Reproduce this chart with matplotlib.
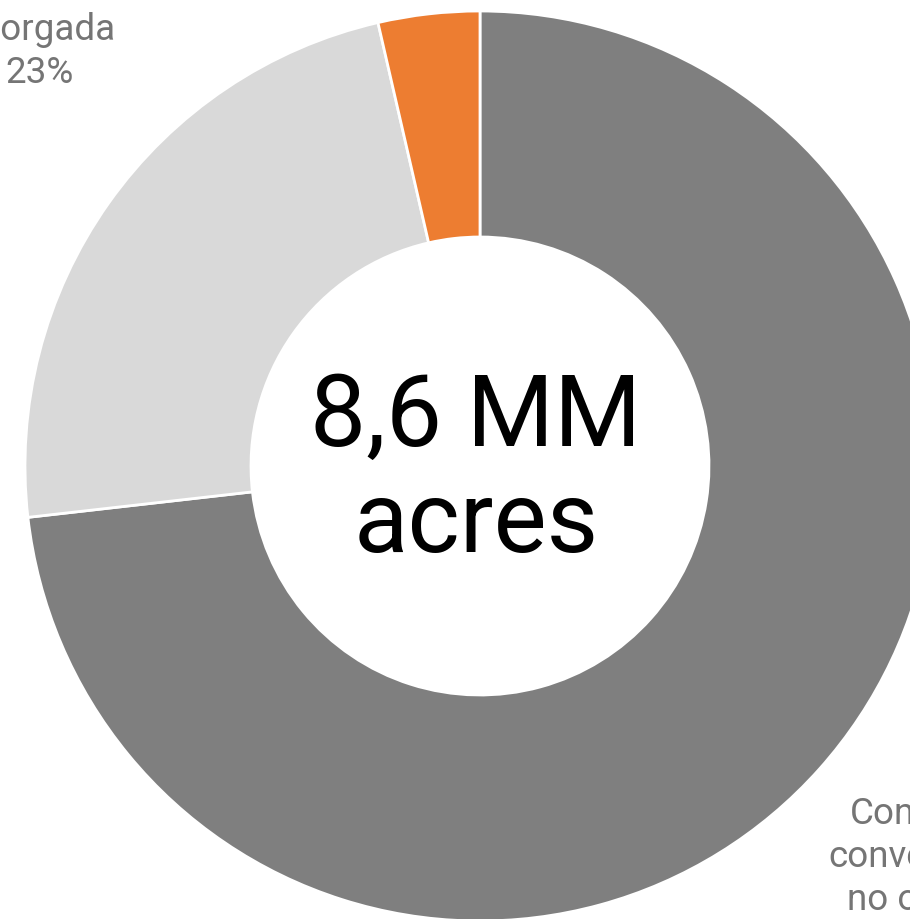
import matplotlib.pyplot as plt

# shares of total area (%), clockwise from 12 o'clock
categories = ['Concesiones\nconvencionales\nno otorgadas', 'Otorgada', 'Otra']
shares = [73.2, 23.2, 3.6]
colors = ['#7f7f7f', '#d9d9d9', '#ed7d31']
center_label = '8,6 MM\nacres'

plt.rcParams['font.family'] = ['Roboto', 'DejaVu Sans']

fig = plt.figure(figsize=(9.1, 9.2), dpi=100)
ax = fig.add_axes([0, 0, 1, 1])

cx, cy, r = 480, 453, 455
ax.pie(shares, colors=colors, startangle=90, counterclock=False,
       center=(cx, cy), radius=r, frame=True,
       wedgeprops=dict(width=r - 229, edgecolor='white', linewidth=2))
ax.set_xlim(0, 910)
ax.set_ylim(0, 920)
ax.set_aspect('equal')
ax.axis('off')

# va='baseline' anchors the last line of a multi-line text
ax.text(476, 368, center_label, ha='center', va='baseline', fontsize=72,
        color='black', linespacing=1.15)

# slice labels
ax.text(40, 837, f'{categories[1]}\n{shares[1]:.0f}%', ha='center', va='baseline',
        fontsize=26.5, color='#757575', linespacing=1.25)
ax.text(956, -33, f'{categories[0]}\n{shares[0]:.0f}%', ha='center', va='baseline',
        fontsize=26.5, color='#757575', linespacing=1.25)

fig.savefig('out.png', dpi=100)
